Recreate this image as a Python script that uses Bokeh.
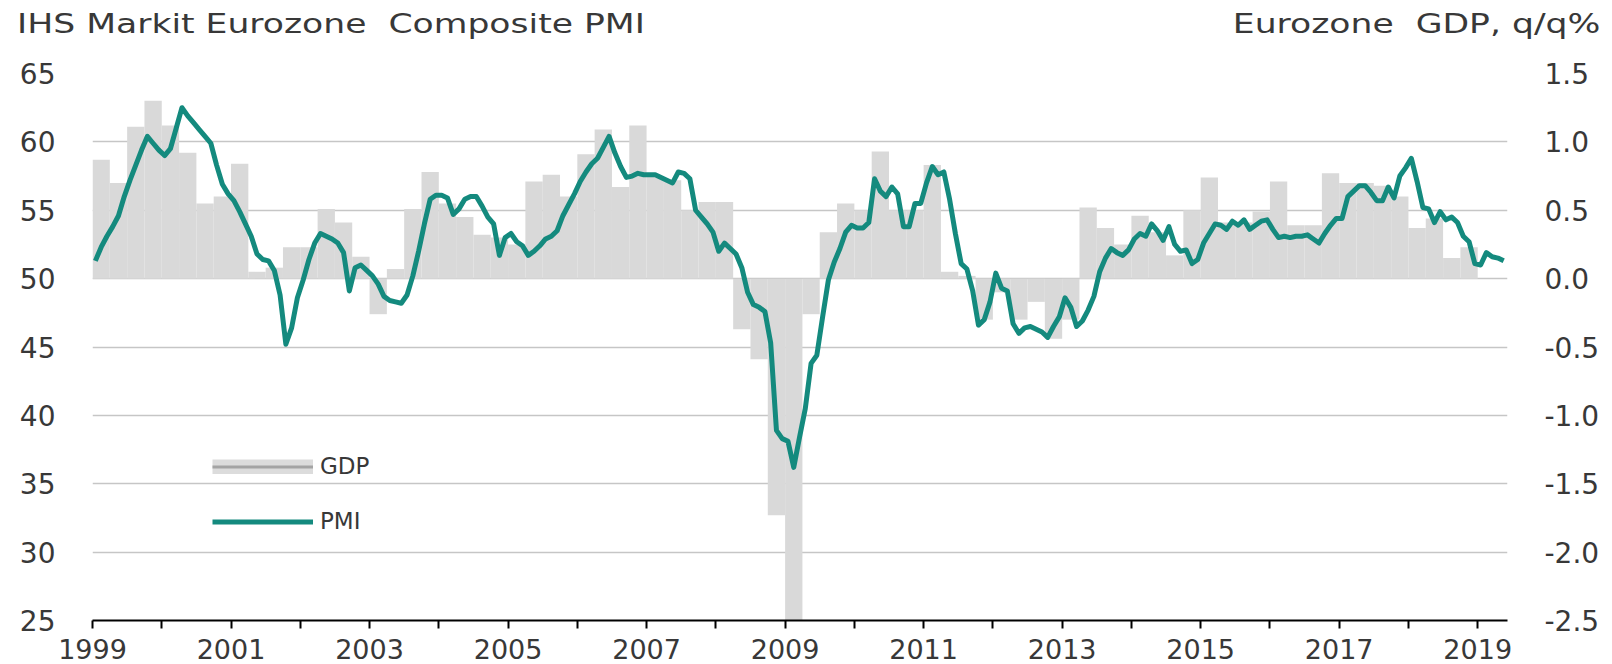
from bokeh.plotting import figure
from bokeh.layouts import column
from bokeh.models import (Range1d, LinearAxis, FixedTicker, Legend, LegendItem, Div,
                          ColumnDataSource, NumeralTickFormatter)
from bokeh.embed import file_html
from bokeh.resources import INLINE
import numpy as np

# ---------------- data ----------------
start_year = 1999
# IHS Markit Eurozone Composite PMI, monthly, Jan 1999 - May 2019
pmi_1999 = [51.3, 52.3, 53.1, 53.8, 54.6, 56.0, 57.2, 58.3, 59.4, 60.4, 59.9, 59.4]
pmi_2000 = [59.0, 59.5, 61.0, 62.5, 61.9, 61.4, 60.9, 60.4, 59.9, 58.3, 56.9, 56.2]
pmi_2001 = [55.7, 54.9, 54.0, 53.1, 51.8, 51.4, 51.3, 50.6, 48.8, 45.2, 46.4, 48.6]
pmi_2002 = [49.9, 51.4, 52.6, 53.3, 53.1, 52.9, 52.6, 51.9, 49.1, 50.8, 51.0, 50.6]
pmi_2003 = [50.2, 49.6, 48.7, 48.4, 48.3, 48.2, 48.8, 50.2, 52.0, 54.0, 55.8, 56.1]
pmi_2004 = [56.1, 55.9, 54.7, 55.1, 55.8, 56.0, 56.0, 55.3, 54.5, 54.0, 51.7, 53.0]
pmi_2005 = [53.3, 52.7, 52.4, 51.7, 52.0, 52.4, 52.9, 53.1, 53.5, 54.6, 55.4, 56.2]
pmi_2006 = [57.1, 57.8, 58.4, 58.8, 59.6, 60.4, 59.2, 58.2, 57.4, 57.5, 57.7, 57.6]
pmi_2007 = [57.6, 57.6, 57.4, 57.2, 57.0, 57.8, 57.7, 57.3, 55.0, 54.5, 54.0, 53.4]
pmi_2008 = [52.0, 52.6, 52.2, 51.8, 50.8, 49.0, 48.1, 47.9, 47.6, 45.3, 38.9, 38.3]
pmi_2009 = [38.1, 36.2, 38.4, 40.5, 43.8, 44.4, 47.2, 49.9, 51.2, 52.2, 53.4, 53.9]
pmi_2010 = [53.7, 53.7, 54.1, 57.3, 56.4, 56.0, 56.7, 56.2, 53.8, 53.8, 55.5, 55.5]
pmi_2011 = [57.0, 58.2, 57.6, 57.8, 55.8, 53.3, 51.1, 50.7, 49.1, 46.6, 47.0, 48.3]
pmi_2012 = [50.4, 49.3, 49.1, 46.7, 46.0, 46.4, 46.5, 46.3, 46.1, 45.7, 46.5, 47.2]
pmi_2013 = [48.6, 47.9, 46.5, 46.9, 47.7, 48.7, 50.5, 51.5, 52.2, 51.9, 51.7, 52.1]
pmi_2014 = [52.9, 53.3, 53.1, 54.0, 53.5, 52.8, 53.8, 52.5, 52.0, 52.1, 51.1, 51.4]
pmi_2015 = [52.6, 53.3, 54.0, 53.9, 53.6, 54.2, 53.9, 54.3, 53.6, 53.9, 54.2, 54.3]
pmi_2016 = [53.6, 53.0, 53.1, 53.0, 53.1, 53.1, 53.2, 52.9, 52.6, 53.3, 53.9, 54.4]
pmi_2017 = [54.4, 56.0, 56.4, 56.8, 56.8, 56.3, 55.7, 55.7, 56.7, 55.9, 57.5, 58.1]
pmi_2018 = [58.8, 57.1, 55.2, 55.1, 54.1, 54.9, 54.3, 54.5, 54.1, 53.1, 52.7, 51.1]
pmi_2019 = [51.0, 51.9, 51.6, 51.5, 51.3]

pmi_values = (pmi_1999 + pmi_2000 + pmi_2001 + pmi_2002 + pmi_2003 + pmi_2004 + pmi_2005
              + pmi_2006 + pmi_2007 + pmi_2008 + pmi_2009 + pmi_2010 + pmi_2011 + pmi_2012
              + pmi_2013 + pmi_2014 + pmi_2015 + pmi_2016 + pmi_2017 + pmi_2018 + pmi_2019)

# Eurozone GDP, q/q %, quarterly, 1999 Q1 - 2018 Q4
gdp_values = [
    0.87, 0.70, 1.11, 1.30,     # 1999
    1.12, 0.92, 0.55, 0.60,     # 2000
    0.84, 0.05, 0.08, 0.23,     # 2001
    0.23, 0.51, 0.41, 0.16,     # 2002
    -0.26, 0.07, 0.51, 0.78,    # 2003
    0.55, 0.45, 0.32, 0.30,     # 2004
    0.25, 0.71, 0.76, 0.60,     # 2005
    0.91, 1.09, 0.67, 1.12,     # 2006
    0.75, 0.72, 0.50, 0.56,     # 2007
    0.56, -0.37, -0.59, -1.73,  # 2008
    -2.90, -0.26, 0.34, 0.55,   # 2009
    0.50, 0.93, 0.50, 0.50,     # 2010
    0.83, 0.05, 0.02, -0.30,    # 2011
    -0.10, -0.30, -0.17, -0.44, # 2012
    -0.30, 0.52, 0.37, 0.25,    # 2013
    0.46, 0.34, 0.17, 0.50,     # 2014
    0.74, 0.41, 0.41, 0.49,     # 2015
    0.71, 0.39, 0.39, 0.77,     # 2016
    0.70, 0.70, 0.68, 0.60,     # 2017
    0.37, 0.44, 0.15, 0.23,     # 2018
]

x_tick_years = list(range(1999, 2020))
x_label_years = [1999, 2001, 2003, 2005, 2007, 2009, 2011, 2013, 2015, 2017, 2019]
pmi_ticks = [25, 30, 35, 40, 45, 50, 55, 60, 65]
gdp_ticks = [-2.5, -2.0, -1.5, -1.0, -0.5, 0.0, 0.5, 1.0, 1.5]
x_end = 2019.43

title_left = "IHS Markit Eurozone  Composite PMI"
title_right = "Eurozone  GDP, q/q%"

# ---------------- styling ----------------
FONT = "DejaVu Sans"
TXT = "#383838"
TEAL = "#148a7e"
BAR = "#d9d9d9"
GRID = "#c6c6c6"
W = 1612
HEADER_H = 53

months = np.arange(len(pmi_values))
pmi_src = ColumnDataSource(dict(x=start_year + (months + 0.5) / 12.0, y=pmi_values))
q = np.arange(len(gdp_values))
gdp_src = ColumnDataSource(dict(left=start_year + q / 4.0, right=start_year + (q + 1) / 4.0,
                                top=gdp_values, bottom=[0.0] * len(gdp_values)))

# ---- header with the two titles ----
span_css = ("position:absolute;top:9px;white-space:pre;display:inline-block;"
            "font-family:'DejaVu Sans';font-size:26px;color:%s;line-height:normal;"
            "transform:scaleX(1.33);" % TXT)
header_html = (
    '<div style="position:relative;width:%dpx;height:%dpx;margin:0;padding:0;">' % (W, HEADER_H)
    + '<span style="%sleft:17px;transform-origin:left center;">%s</span>' % (span_css, title_left)
    + '<span style="%sright:12px;transform-origin:right center;">%s</span>' % (span_css, title_right)
    + '</div>'
)
header = Div(text=header_html, width=W, height=HEADER_H, margin=(0, 0, 0, 0))

# ---- main chart ----
p = figure(width=W, height=664 - HEADER_H, output_backend="svg", toolbar_location=None,
           x_range=Range1d(start_year, x_end), y_range=Range1d(pmi_ticks[0], pmi_ticks[-1]),
           min_border_left=92, min_border_right=105, min_border_top=20, min_border_bottom=44)
p.extra_y_ranges = {"gdp": Range1d(gdp_ticks[0], gdp_ticks[-1])}
p.outline_line_color = None
p.background_fill_color = "white"
p.border_fill_color = "white"

p.xgrid.visible = False
p.ygrid.ticker = FixedTicker(ticks=pmi_ticks)
p.ygrid.grid_line_color = GRID
p.ygrid.grid_line_width = 1.5

bars = p.quad(left="left", right="right", top="top", bottom="bottom", source=gdp_src,
              y_range_name="gdp", fill_color=BAR, line_color=None)
key_src = ColumnDataSource(dict(x=[float("nan")], y=[float("nan")]))
gdp_key_band = p.line(x="x", y="y", source=key_src, line_color="#dcdcdc", line_width=15)
gdp_key_core = p.line(x="x", y="y", source=key_src, line_color="#a4a4a4", line_width=3)
pmi_line = p.line(x="x", y="y", source=pmi_src, line_color=TEAL, line_width=5,
                  line_join="round")

# left axis
ya = p.yaxis[0]
ya.ticker = FixedTicker(ticks=pmi_ticks)
ya.axis_line_color = None
ya.major_tick_line_color = None
ya.minor_tick_line_color = None
ya.major_tick_out = 0
ya.major_tick_in = 0
ya.major_label_standoff = 37
ya.major_label_text_font = FONT
ya.major_label_text_font_size = "28px"
ya.major_label_text_color = TXT

# right axis
ra = LinearAxis(y_range_name="gdp", ticker=FixedTicker(ticks=gdp_ticks),
                formatter=NumeralTickFormatter(format="0.0"))
ra.axis_line_color = None
ra.major_tick_line_color = None
ra.minor_tick_line_color = None
ra.major_tick_out = 0
ra.major_tick_in = 0
ra.major_label_standoff = 37
ra.major_label_text_font = FONT
ra.major_label_text_font_size = "28px"
ra.major_label_text_color = TXT
p.add_layout(ra, "right")

# bottom axis
xa = p.xaxis[0]
xa.ticker = FixedTicker(ticks=x_tick_years)
xa.major_label_overrides = {yr: (str(yr) if yr in x_label_years else "") for yr in x_tick_years}
xa.axis_line_color = "black"
xa.axis_line_width = 2
xa.major_tick_line_color = "black"
xa.major_tick_line_width = 2
xa.major_tick_out = 8
xa.major_tick_in = 0
xa.minor_tick_line_color = None
xa.major_label_standoff = 10
xa.major_label_text_font = FONT
xa.major_label_text_font_size = "27px"
xa.major_label_text_color = TXT

# legend
legend = Legend(items=[LegendItem(label="GDP", renderers=[bars, gdp_key_band, gdp_key_core]),
                       LegendItem(label="PMI", renderers=[pmi_line])],
                location=(120, 86), orientation="vertical",
                glyph_width=101, glyph_height=15, label_height=15, spacing=29,
                label_standoff=7, padding=0, margin=0,
                label_text_font=FONT, label_text_font_size="23px", label_text_color=TXT,
                background_fill_alpha=0, border_line_color=None)
p.add_layout(legend)

layout = column(header, p, spacing=0)
open("out.html", "w").write(file_html(layout, INLINE))
